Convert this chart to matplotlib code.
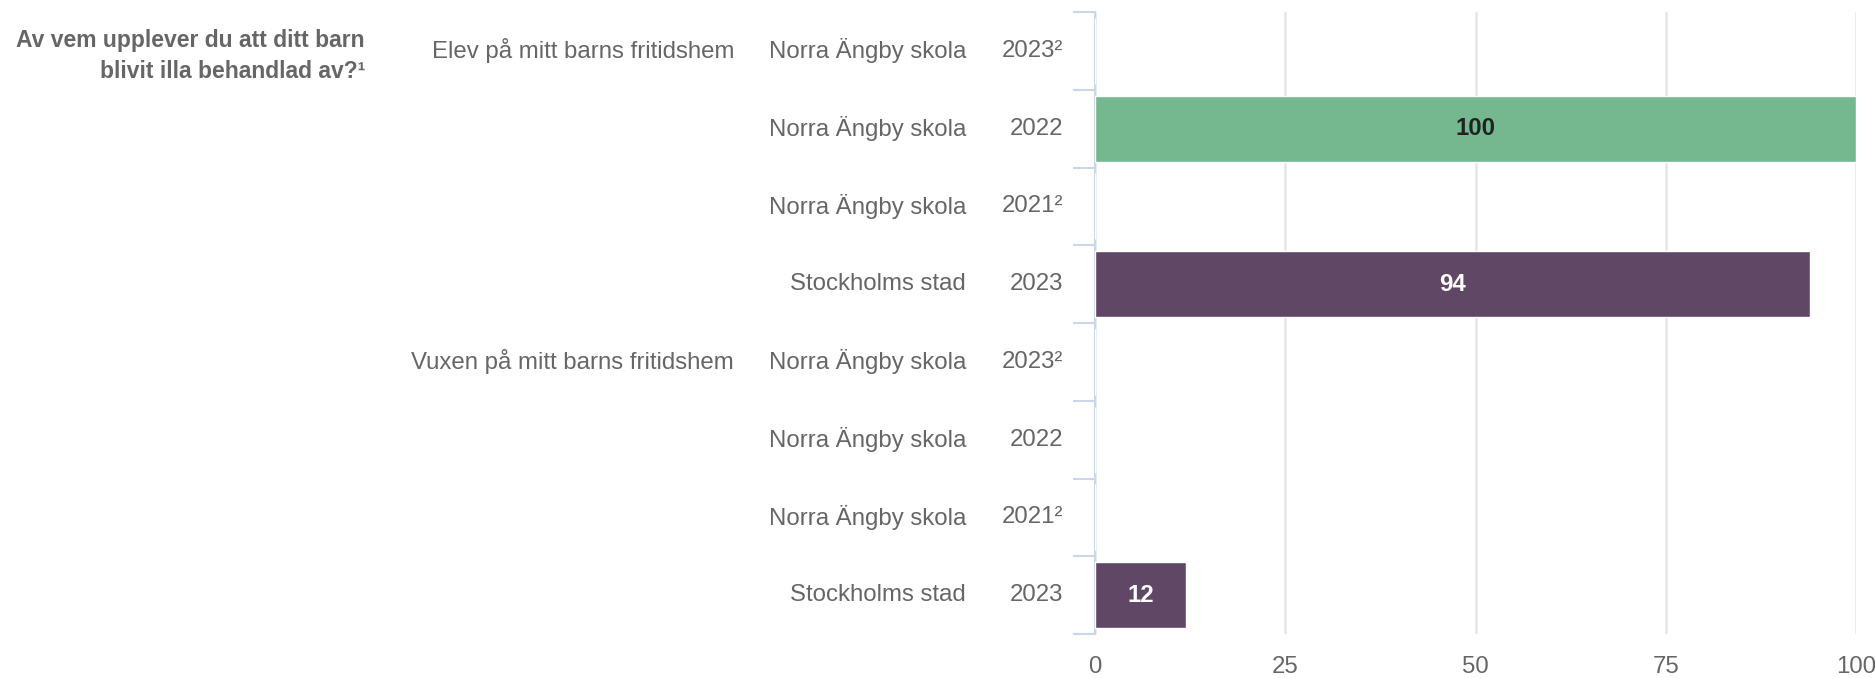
import numpy as np
import matplotlib.pyplot as plt
from matplotlib.transforms import blended_transform_factory

plt.rcParams['font.family'] = ['Liberation Sans', 'DejaVu Sans']

question = 'Av vem upplever du att ditt barn\nblivit illa behandlad av?\u00b9'
groups = ['Elev på mitt barns fritidshem', '', '', '',
          'Vuxen på mitt barns fritidshem', '', '', '']
units = ['Norra Ängby skola', 'Norra Ängby skola', 'Norra Ängby skola', 'Stockholms stad',
         'Norra Ängby skola', 'Norra Ängby skola', 'Norra Ängby skola', 'Stockholms stad']
years = ['2023\u00b2', '2022', '2021\u00b2', '2023',
         '2023\u00b2', '2022', '2021\u00b2', '2023']
values = [np.nan, 100, np.nan, 94, np.nan, np.nan, np.nan, 12]
colors = ['#75b88f', '#75b88f', '#75b88f', '#604765',
          '#75b88f', '#75b88f', '#75b88f', '#604765']
label_colors = ['#222222', '#222222', '#222222', 'white',
                '#222222', '#222222', '#222222', 'white']

W, H = 1875, 678
fig = plt.figure(figsize=(W / 100, H / 100), dpi=100)
ax = fig.add_axes([1095 / W, 1 - 634 / H, 761 / W, 622 / H])

txt = '#666666'
fs = 17.3
y = np.arange(len(values))
vals = np.nan_to_num(values)
ax.barh(y, vals, height=0.85, color=colors, edgecolor='white', linewidth=1, zorder=3)

for yi, v, lc in zip(y, values, label_colors):
    if not np.isnan(v):
        ax.text(v / 2, yi, f'{v:.0f}', ha='center', va='center', fontsize=fs,
                fontweight='bold', color=lc, zorder=4)

ax.set_xlim(0, 100)
ax.set_ylim(len(values) - 0.5, -0.5)
ax.set_xticks([0, 25, 50, 75, 100])
ax.tick_params(axis='x', length=0, labelsize=fs, labelcolor=txt, pad=16)
ax.xaxis.grid(True, color='#e6e6e6', linewidth=1.8, zorder=0)

ax.set_yticks(np.arange(len(values) + 1) - 0.5)
ax.set_yticklabels([])
ax.tick_params(axis='y', length=16, width=1.5, color='#ccd6eb')

for side in ['top', 'right', 'bottom']:
    ax.spines[side].set_visible(False)
ax.spines['left'].set_color('#ccd6eb')
ax.spines['left'].set_linewidth(1.5)

tr = blended_transform_factory(fig.transFigure, ax.transData)
for yi in y:
    ax.text(1063 / W, yi, years[yi], transform=tr, ha='right', va='center',
            fontsize=fs, color=txt)
    ax.text(966 / W, yi, units[yi], transform=tr, ha='right', va='center',
            fontsize=fs, color=txt)
    if groups[yi]:
        ax.text(734 / W, yi, groups[yi], transform=tr, ha='right', va='center',
                fontsize=fs, color=txt)

fig.text(365 / W, 1 - 56 / H, question, ha='right', va='center', fontsize=16.5,
         fontweight='bold', color=txt, linespacing=1.45)

fig.savefig('out.png', dpi=100)
